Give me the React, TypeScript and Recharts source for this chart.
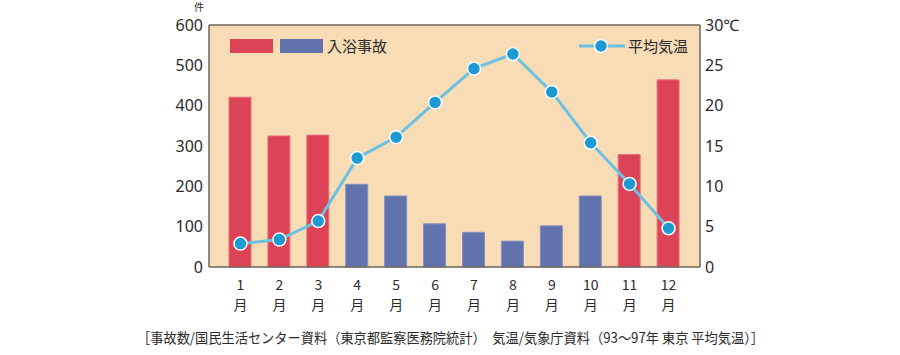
import React from 'react';
import { ComposedChart, Bar, Line, XAxis, YAxis, Cell, CartesianGrid, ReferenceLine } from 'recharts';

const months = ['1', '2', '3', '4', '5', '6', '7', '8', '9', '10', '11', '12'];
const accidents = [421, 325, 327, 205, 176, 107, 86, 64, 102, 176, 279, 464];
const temperature = [2.9, 3.4, 5.7, 13.5, 16.1, 20.4, 24.6, 26.4, 21.7, 15.4, 10.3, 4.8];
// 寒い月は赤、それ以外は青
const coldMonth = [true, true, true, false, false, false, false, false, false, false, true, true];

const leftTicks = [0, 100, 200, 300, 400, 500, 600];
const rightTicks = [0, 5, 10, 15, 20, 25, 30];

const RED = '#DC4357';
const BLUE = '#6272AD';
const LINE = '#6CC1E2';
const DOT = '#1B9AD4';
const BG = '#F8DCB6';
const BORDER = '#6e645c';
const FONT = '"Noto Sans CJK JP", "Noto Sans", sans-serif';
const NUM_FONT = '"Noto Sans", "Noto Sans CJK JP", sans-serif';
const TEXT = '#2b2b2b';

const data = months.map((m, i) => ({
  month: m,
  accidents: accidents[i],
  temp: temperature[i],
  cold: coldMonth[i],
}));

const MonthTick = (props: any) => {
  const { x, y, payload } = props;
  return (
    <g>
      <text x={x} y={y + 15} textAnchor="middle" fontFamily={FONT} fontSize={14} fill={TEXT}>
        {payload.value}
      </text>
      <text x={x} y={y + 35} textAnchor="middle" fontFamily={FONT} fontSize={14} fill={TEXT}>
        月
      </text>
    </g>
  );
};

export default function App() {
  return (
    <div style={{ position: 'absolute', left: 0, top: 0, width: 900, height: 355, background: '#fff' }}>
      <ComposedChart
        width={900}
        height={355}
        data={data}
        margin={{ top: 25, right: 0, bottom: 48, left: 0 }}
      >
        <CartesianGrid fill={BG} horizontal={false} vertical={false} yAxisId="left" />
        <XAxis
          dataKey="month"
          tick={<MonthTick />}
          tickLine={false}
          axisLine={{ stroke: BORDER, strokeWidth: 1.5 }}
          padding={{ left: 12, right: 12 }}
          height={40}
          interval={0}
        />
        <YAxis
          yAxisId="left"
          width={209}
          domain={[0, 600]}
          ticks={leftTicks}
          tickLine={false}
          tickSize={0}
          tickMargin={6}
          axisLine={{ stroke: BORDER, strokeWidth: 1.5 }}
          tick={{ fill: TEXT, fontSize: 16, fontFamily: NUM_FONT }}
        />
        <YAxis
          yAxisId="right"
          orientation="right"
          width={200}
          domain={[0, 30]}
          ticks={rightTicks}
          tickLine={false}
          tickSize={0}
          tickMargin={5}
          axisLine={{ stroke: BORDER, strokeWidth: 1.5 }}
          tick={{ fill: TEXT, fontSize: 16, fontFamily: NUM_FONT, textAnchor: 'start' }}
          tickFormatter={(v) => (v === 30 ? '30℃' : `${v}`)}
        />
        <Bar yAxisId="left" dataKey="accidents" barSize={22} isAnimationActive={false}>
          {data.map((d, i) => (
            <Cell
              key={i}
              fill={d.cold ? RED : BLUE}
              stroke={d.cold ? '#e8737f' : '#8590c0'}
              strokeWidth={1}
            />
          ))}
        </Bar>
        <Line
          yAxisId="right"
          type="linear"
          dataKey="temp"
          stroke={LINE}
          strokeWidth={3}
          dot={{ r: 6.5, fill: DOT, stroke: '#fff', strokeWidth: 1.5 }}
          activeDot={false}
          isAnimationActive={false}
        />
        <ReferenceLine yAxisId="left" y={600} stroke={BORDER} strokeWidth={1.5} />
      </ComposedChart>

      <svg
        width={900}
        height={355}
        style={{ position: 'absolute', left: 0, top: 0, pointerEvents: 'none' }}
      >
        <text x={199} y={11} textAnchor="middle" fontFamily={FONT} fontSize={10} fill={TEXT}>件</text>

        {/* 入浴事故 legend */}
        <rect x={230} y={39} width={43} height={14} fill={RED} />
        <rect x={280} y={39} width={43} height={14} fill={BLUE} />
        <text x={327} y={52} fontFamily={FONT} fontSize={15} fill={TEXT}>入浴事故</text>

        {/* 平均気温 legend */}
        <line x1={579} y1={46} x2={625} y2={46} stroke={LINE} strokeWidth={3} />
        <circle cx={601} cy={46} r={6.5} fill={DOT} stroke="#fff" strokeWidth={1.5} />
        <text x={628} y={52} fontFamily={FONT} fontSize={15} fill={TEXT}>平均気温</text>

        <text
          x={137}
          y={343}
          fontFamily={FONT}
          fontSize={14}
          fill={TEXT}
          textLength={627}
          lengthAdjust="spacingAndGlyphs"
        >
          ［事故数/国民生活センター資料（東京都監察医務院統計）　気温/気象庁資料（93～97年 東京 平均気温）］
        </text>
      </svg>
    </div>
  );
}
